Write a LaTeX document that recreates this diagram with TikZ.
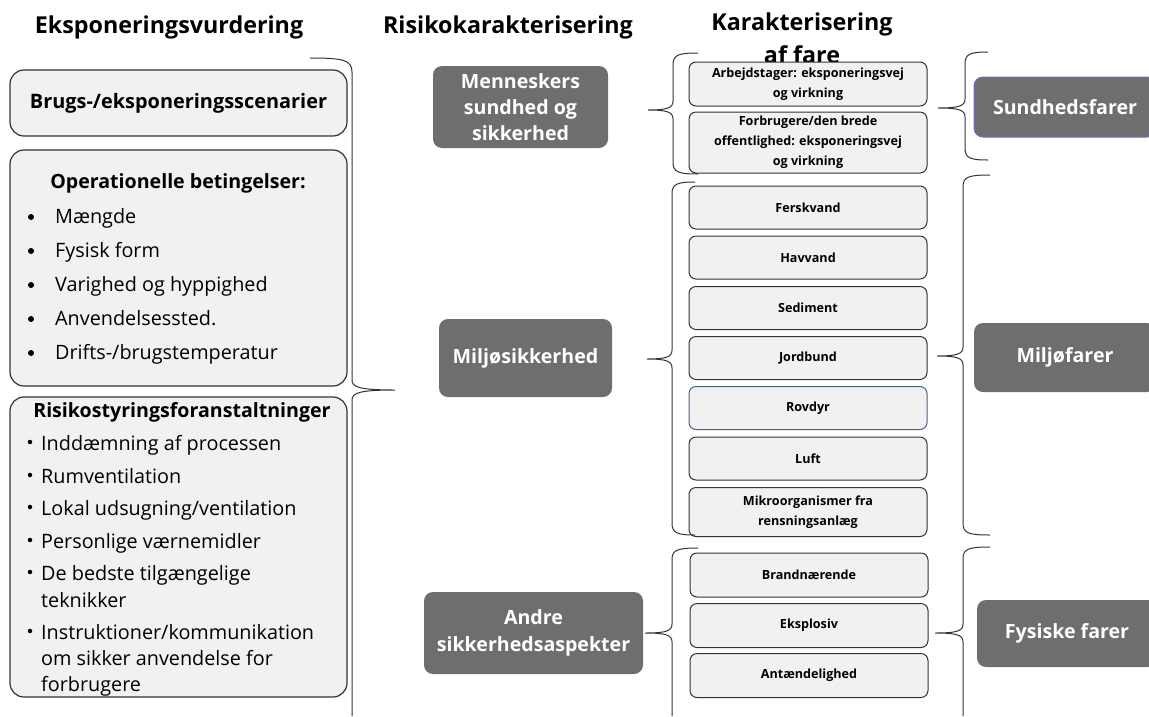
\documentclass[tikz,border=0pt]{standalone}
\usepackage{fontspec}
\setmainfont{Open Sans}
\definecolor{darkfill}{HTML}{6E6E6E}
\definecolor{lightfill}{HTML}{F1F1F1}
\definecolor{edgecol}{HTML}{333333}
\definecolor{blueedge}{HTML}{4A6480}
\definecolor{purpleedge}{HTML}{6E6EC8}
\tikzset{
  title/.style={font=\bfseries\fontsize{23.3}{33}\selectfont, text=black, inner sep=0pt, align=center},
  leftbox/.style={draw=edgecol, line width=1.2pt, fill=lightfill, rounded corners=14pt, minimum width=337pt, inner sep=0pt},
  darkbox/.style={fill=darkfill, rounded corners=9pt, text=white, font=\bfseries\fontsize{19.6}{26}\selectfont, align=center, inner sep=0pt},
  smallbox/.style={draw=edgecol, line width=1pt, fill=lightfill, rounded corners=7pt, minimum width=238pt, inner sep=0pt, align=center, font=\bfseries\fontsize{12.6}{20}\selectfont},
  brace/.style={draw=edgecol, line width=1pt},
  itemtext/.style={anchor=base west, font=\fontsize{19.8}{24}\selectfont, inner sep=0pt},
  boxhead/.style={font=\bfseries\fontsize{19.6}{24}\selectfont, inner sep=0pt},
  bigdot/.style={circle, fill=black, inner sep=0pt, minimum size=6pt},
  smalldot/.style={circle, fill=black, inner sep=0pt, minimum size=4.5pt},
}
% left-pointing brace "{": xv, ytop, ybot, xtip, ytip, xhook
\newcommand{\bracel}[6]{%
  \draw[brace] (#6,#2) .. controls ({#1+5},#2) and (#1,{#2+2}) .. (#1,{#2+12})
    -- (#1,{#5-9}) .. controls (#1,{#5-2}) and ({#1-6},#5) .. (#4,#5)
    .. controls ({#1-6},#5) and (#1,{#5+2}) .. (#1,{#5+9})
    -- (#1,{#3-12}) .. controls (#1,{#3-2}) and ({#1+5},#3) .. (#6,#3);}
\begin{document}
\begin{tikzpicture}[x=1pt,y=-1pt]
\path[use as bounding box, fill=white] (0,0) rectangle (1149,716);

% titles
\node[title] (t1) at (169,27) {Eksponeringsvurdering};
\node[title] (t2) at (508,27) {Risikokarakterisering};
\node[title] (t3) at (802,38) {Karakterisering\\af fare};

% left column
\node[leftbox, minimum height=66pt, font=\bfseries\fontsize{19.9}{24}\selectfont] (scen) at (178.5,103) {Brugs-/eksponeringsscenarier};
\node[leftbox, minimum height=236pt] (opbox) at (178.5,268) {};
\node[boxhead] (ophead) at (178,183) {Operationelle betingelser:};
\node[bigdot] (ob1) at (31,217) {};
\node[itemtext] (o1) at (55,223.5) {Mængde};
\node[bigdot] (ob2) at (31,251) {};
\node[itemtext] (o2) at (55,257.5) {Fysisk form};
\node[bigdot] (ob3) at (31,285) {};
\node[itemtext] (o3) at (55,291.5) {Varighed og hyppighed};
\node[bigdot] (ob4) at (31,319) {};
\node[itemtext] (o4) at (55,325.5) {Anvendelsessted.};
\node[bigdot] (ob5) at (31,353) {};
\node[itemtext] (o5) at (55,359.5) {Drifts-/brugstemperatur};

\node[leftbox, minimum height=300pt] (rmbox) at (178.5,547) {};
\node[boxhead] (rmhead) at (182,412) {Risikostyringsforanstaltninger};
\node[smalldot] (rb1) at (30,442) {};
\node[itemtext] (r1) at (41,450) {Inddæmning af processen};
\node[smalldot] (rb2) at (30,475) {};
\node[itemtext] (r2) at (41,483) {Rumventilation};
\node[smalldot] (rb3) at (30,507) {};
\node[itemtext] (r3) at (41,515) {Lokal udsugning/ventilation};
\node[smalldot] (rb4) at (30,540) {};
\node[itemtext] (r4) at (41,548) {Personlige værnemidler};
\node[smalldot] (rb5) at (30,572) {};
\node[itemtext] (r5) at (41,580) {De bedste tilgængelige};
\node[itemtext] (r5b) at (41,607) {teknikker};
\node[smalldot] (rb6) at (30,631) {};
\node[itemtext] (r6) at (41,639) {Instruktioner/kommunikation};
\node[itemtext] (r6b) at (41,665) {om sikker anvendelse for};
\node[itemtext] (r6c) at (41,691) {forbrugere};

% big right-pointing brace of the left column
\draw[brace] (310,58) .. controls (343,58) and (352,60) .. (352,72)
  -- (352,380) .. controls (352,387) and (359,390) .. (395,390)
  .. controls (359,390) and (352,393) .. (352,400) -- (352,716);

% middle dark boxes
\node[darkbox, minimum width=175pt, minimum height=82pt] (human) at (520.5,107) {Menneskers\\sundhed og\\sikkerhed};
\node[darkbox, minimum width=173pt, minimum height=78pt] (envsafe) at (525.5,358) {Miljøsikkerhed};
\node[darkbox, minimum width=219pt, minimum height=82pt, font=\bfseries\fontsize{19.6}{27}\selectfont] (other) at (533.5,633) {Andre\\sikkerhedsaspekter};

% hazard characterisation boxes
\node[smallbox, minimum height=44pt] (arb) at (808,84) {Arbejdstager: eksponeringsvej\\og virkning};
\node[smallbox, minimum height=61pt] (forb) at (808,142.5) {Forbrugere/den brede\\offentlighed: eksponeringsvej\\og virkning};
\node[smallbox, minimum height=43pt] (fersk) at (808,207.5) {Ferskvand};
\node[smallbox, minimum height=43pt] (hav) at (808,257.5) {Havvand};
\node[smallbox, minimum height=43pt] (sed) at (808,308) {Sediment};
\node[smallbox, minimum height=43pt] (jord) at (808,358) {Jordbund};
\node[smallbox, minimum height=43pt, draw=blueedge] (rov) at (808,408) {Rovdyr};
\node[smallbox, minimum height=43pt] (luft) at (808,458.5) {Luft};
\node[smallbox, minimum height=49pt] (mikro) at (808,512) {Mikroorganismer fra\\rensningsanlæg};
\node[smallbox, minimum height=44pt] (brand) at (809,575) {Brandnærende};
\node[smallbox, minimum height=44pt] (eksp) at (809,625.5) {Eksplosiv};
\node[smallbox, minimum height=44pt] (ant) at (809,675.5) {Antændelighed};

% right dark boxes
\node[darkbox, draw=purpleedge, line width=1pt, minimum width=182pt, minimum height=60pt] (health) at (1065,107) {Sundhedsfarer};
\node[darkbox, minimum width=182pt, minimum height=69pt] (envhaz) at (1065,357.5) {Miljøfarer};
\node[darkbox, minimum width=180pt, minimum height=67pt] (phys) at (1067,633.5) {Fysiske farer};

% braces between columns
\bracel{673}{53}{174}{648}{110}{698}
\bracel{672}{182}{535}{647}{359}{695}
\bracel{965}{52}{160}{938}{108}{988}
\bracel{963}{175}{535}{937}{356}{990}
% bottom braces (run off the lower edge)
\draw[brace] (698,548) .. controls (677,548) and (672,550) .. (672,560)
  -- (672,624) .. controls (672,631) and (666,633) .. (645,633)
  .. controls (666,633) and (672,635) .. (672,642) -- (672,716);
\draw[brace] (990,547) .. controls (968,547) and (963,549) .. (963,559)
  -- (963,624) .. controls (963,631) and (957,633) .. (935,633)
  .. controls (957,633) and (963,635) .. (963,642) -- (963,716);
\end{tikzpicture}
\end{document}
